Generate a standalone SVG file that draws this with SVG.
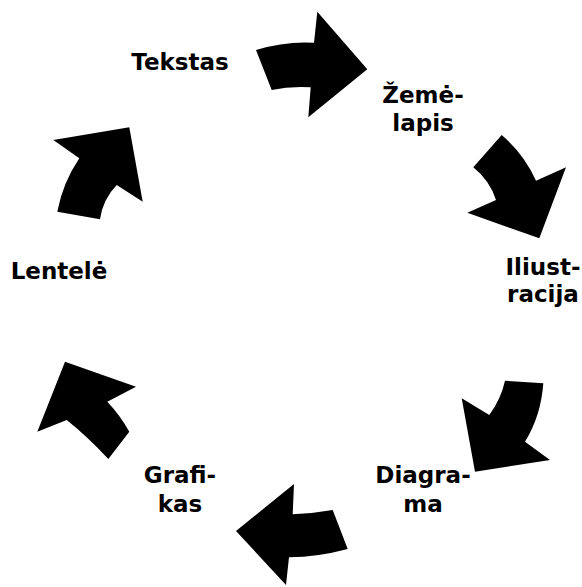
<svg xmlns="http://www.w3.org/2000/svg" width="582" height="587" viewBox="0 0 582 587">
<style>
.lbl{font-family:"DejaVu Sans","Verdana",sans-serif;font-weight:bold;font-size:23px;fill:#000;text-anchor:middle}
.arr{fill:#000;stroke:none}
</style>
<rect width="582" height="587" fill="#fff"/>
<g id="connectors">
<path class="arr" d="M256,50 Q285,41 314,42.7 L317.3,11.7 L367.3,69.3 L308.3,117.3 L310.7,87.3 Q290,86 271.7,90 Z"/>
<path class="arr" d="M501.7,135 Q524,154 536,180.7 L566,167.3 L539.3,238.3 L467.3,212.7 L496,200 Q489.6,180.3 473.3,167.3 Z"/>
<path class="arr" d="M505,380.7 L543.3,383.3 Q541,416 525,441.7 L550,460 L475,471.7 L461.7,398.3 L489.3,415 Q501,399 505,380.7 Z"/>
<path class="arr" d="M294,484 L292.7,514.3 Q313,513.5 332.7,510 L347.7,549 Q318,557 289,557.3 L286,585 L236,531 Z"/>
<path class="arr" d="M65,361.7 L136,386.7 L107.3,401.7 Q120,415 129.3,431.7 L108.3,459 Q88,437 66.7,420 L37.3,431.7 Z"/>
<path class="arr" d="M53.3,140 L129.3,127.3 L142.7,201.7 L116.7,185 Q103,199 100,219.3 L57.3,211.7 Q62.8,182.7 79.3,158.3 Z"/>
</g>
<g id="n-tekstas"><text class="lbl" x="180" y="70">Tekstas</text></g>
<g id="n-zemelapis"><text class="lbl" x="423" y="103.3">Žemė-</text><text class="lbl" x="423" y="130.7">lapis</text></g>
<g id="n-iliustracija"><text class="lbl" x="543" y="275">Iliust-</text><text class="lbl" x="543" y="302.3">racija</text></g>
<g id="n-diagrama"><text class="lbl" x="423" y="483.3">Diagra-</text><text class="lbl" x="423" y="511.7">ma</text></g>
<g id="n-grafikas"><text class="lbl" x="180" y="482.7">Grafi-</text><text class="lbl" x="180" y="511.7">kas</text></g>
<g id="n-lentele"><text class="lbl" x="59" y="279">Lentelė</text></g>
</svg>
